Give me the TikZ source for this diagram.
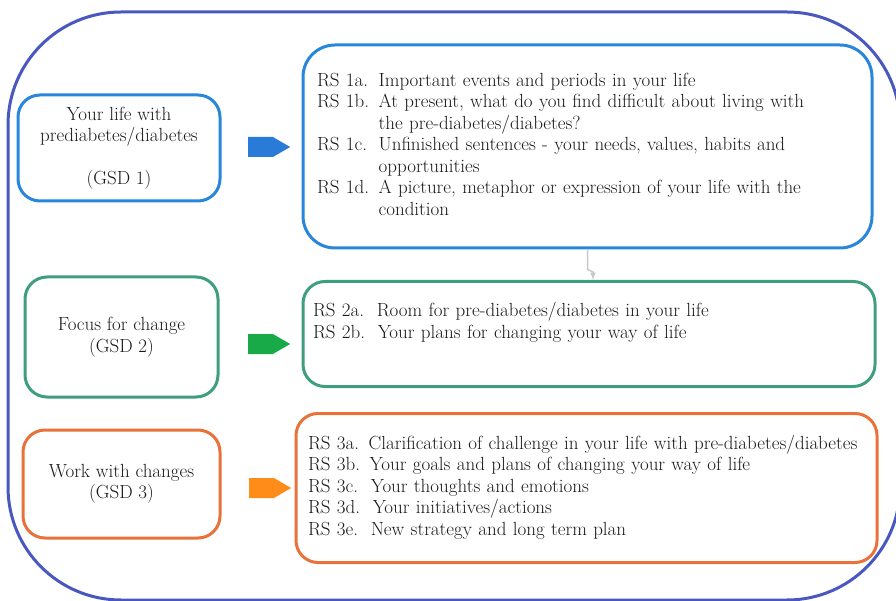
\documentclass[tikz,border=0pt]{standalone}
\usetikzlibrary{arrows,shapes.symbols}
\definecolor{framecol}{RGB}{72,88,190}
\definecolor{gsdblue}{RGB}{40,134,220}
\definecolor{gsdgreen}{RGB}{64,158,128}
\definecolor{gsdorange}{RGB}{232,114,58}
\definecolor{arrblue}{RGB}{42,122,216}
\definecolor{arrgreen}{RGB}{24,170,72}
\definecolor{arrorange}{RGB}{255,140,24}
\definecolor{linkgrey}{RGB}{200,200,200}
\definecolor{textcol}{RGB}{25,25,25}
\newcommand{\boxfont}{\rmfamily\fontsize{19}{21.5}\selectfont}
\tikzset{
  {frame line/.style} ={draw=framecol,line width=3pt,rounded corners=113pt},
  {gsd box/.style} ={rectangle,draw=#1,line width=3pt,rounded corners=22pt,
                     align=center,text=textcol,font=\boxfont,inner sep=0},
  {rs box/.style} ={rectangle,draw=#1,line width=3pt,rounded corners=22pt,
                    align=left,text=textcol,font=\boxfont,inner ysep=0},
  {block arrow/.style} ={signal,signal to=east,signal pointer angle=60,
                         fill=#1,draw=none,minimum width=42pt,
                         minimum height=20pt,inner sep=0,anchor=west},
  {link/.style} ={draw=linkgrey,line width=1.5pt},
  >=latex,
}

\begin{document}
\begin{tikzpicture}[x=1pt,y=-1pt]
    \useasboundingbox (0,0) rectangle (896,601);
    \draw[frame line] (8,12) rectangle (900,600);

    \node[gsd box=gsdblue,minimum width=202pt,minimum height=106pt]
      (gsd1) at (119,148) {Your life with\\prediabetes/diabetes\\[21.5pt](GSD 1)};
    \node[gsd box=gsdgreen,minimum width=193pt,minimum height=120pt]
      (gsd2) at (121.5,337) {Focus for change\\(GSD 2)};
    \node[gsd box=gsdorange,minimum width=197pt,minimum height=108pt]
      (gsd3) at (121.5,484) {Work with changes\\(GSD 3)};

    \node[block arrow=arrblue] (arr1) at (248,147) {};
    \node[block arrow=arrgreen] (arr2) at (248,344) {};
    \node[block arrow=arrorange] (arr3) at (249,488) {};

    \node[rs box=gsdblue,rounded corners=32pt,inner xsep=14pt,text width=541pt,
      minimum height=203pt] (rs1) at (587.5,146.5) {%
      \begin{tabular}{@{}l@{ }l@{}}
        RS 1a. & Important events and periods in your life\\
        RS 1b. & At present, what do you find difficult about living with\\
               & the pre-diabetes/diabetes?\\
        RS 1c. & Unfinished sentences - your needs, values, habits and\\
               & opportunities\\
        RS 1d. & A picture, metaphor or expression of your life with the\\
               & condition
      \end{tabular}};
    \node[rs box=gsdgreen,inner xsep=10pt,text width=552pt,
      minimum height=105pt] (rs2) at (589,334) {%
      \begin{tabular}{@{}l@{}}
        RS 2a.\ \ Room for pre-diabetes/diabetes in your life\\
        RS 2b.\ \ Your plans for changing your way of life\\
        \mbox{}
      \end{tabular}};
    \node[rs box=gsdorange,inner xsep=12pt,text width=557pt,
      minimum height=149pt] (rs3) at (586.5,488) {%
      \begin{tabular}{@{}l@{}}
        RS 3a. Clarification of challenge in your life with pre-diabetes/diabetes\\
        RS 3b. Your goals and plans of changing your way of life\\
        RS 3c.\ \ Your thoughts and emotions\\
        RS 3d.\ \ Your initiatives/actions\\
        RS 3e.\ \ New strategy and long term plan
      \end{tabular}};

    \draw[link,->] (rs1.south) -- ++(0,20)
      -- ([xshift=4pt,yshift=8pt]rs2.north) -- ([xshift=4pt]rs2.north);
\end{tikzpicture}
\end{document}
